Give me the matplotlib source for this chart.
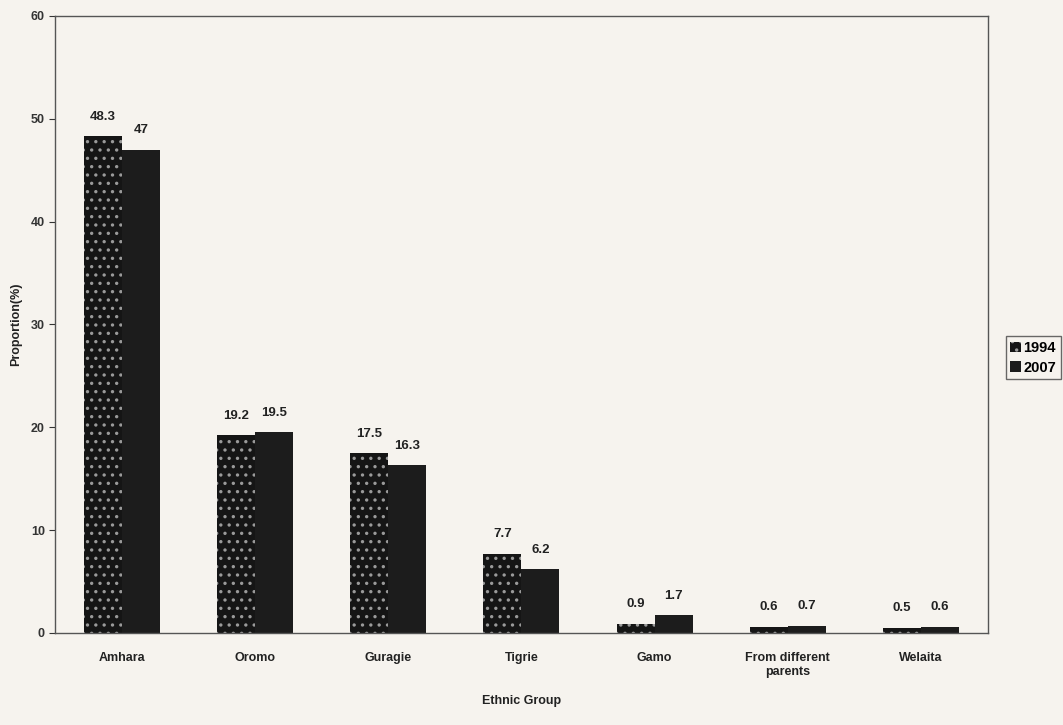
import numpy as np
import matplotlib.pyplot as plt

# Ethnic composition of Addis Ababa, 1994 vs 2007
grupos = ['Amhara', 'Oromo', 'Guragie', 'Tigrie', 'Gamo', 'From different\nparents', 'Welaita']
v1994 = [48.3, 19.2, 17.5, 7.7, 0.9, 0.6, 0.5]
v2007 = [47, 19.5, 16.3, 6.2, 1.7, 0.7, 0.6]
etiq1994 = ['48.3', '19.2', '17.5', '7.7', '0.9', '0.6', '0.5']
etiq2007 = ['47', '19.5', '16.3', '6.2', '1.7', '0.7', '0.6']

plt.rcParams['font.family'] = ['Liberation Sans', 'DejaVu Sans']
plt.rcParams['hatch.linewidth'] = 1.2

fondo = '#f6f3ee'
fig = plt.figure(figsize=(10.63, 7.25), dpi=100, facecolor=fondo)
ax = fig.add_axes([0.052, 0.127, 0.877, 0.851], facecolor=fondo)

x = np.arange(len(grupos))
ancho = 0.285
b1 = ax.bar(x - ancho / 2, v1994, ancho, color='#151515', edgecolor='#9a9a9a',
            hatch='..', linewidth=0, label='1994')
b2 = ax.bar(x + ancho / 2, v2007, ancho, color='#1c1c1c', edgecolor='#1c1c1c',
            linewidth=0, label='2007')

for barra, t in zip(b1, etiq1994):
    ax.text(barra.get_x() + barra.get_width() / 2, barra.get_height() + 1.3, t,
            ha='center', va='bottom', fontsize=9.5, fontweight='bold', color='#222222')
for barra, t in zip(b2, etiq2007):
    ax.text(barra.get_x() + barra.get_width() / 2, barra.get_height() + 1.3, t,
            ha='center', va='bottom', fontsize=9.5, fontweight='bold', color='#222222')

ax.set_xlim(-0.5, len(grupos) - 0.5)
ax.set_ylim(0, 60)
ax.set_yticks(range(0, 61, 10))
ax.set_xticks(x)
ax.set_xticklabels(grupos, fontsize=9, fontweight='bold', color='#222222')
ax.tick_params(axis='x', length=0, pad=14)
ax.tick_params(axis='y', length=4, labelsize=9, colors='#333333')
for lab in ax.get_yticklabels():
    lab.set_fontweight('bold')
for s in ax.spines.values():
    s.set_color('#555555')
    s.set_linewidth(1.0)

ax.set_ylabel('Proportion(%)', fontsize=9, fontweight='bold', color='#222222', labelpad=6)
ax.set_xlabel('Ethnic Group', fontsize=9, fontweight='bold', color='#222222', labelpad=12)

ax.legend(loc='center left', bbox_to_anchor=(1.012, 0.446), frameon=True,
          fancybox=False, edgecolor='#444444', facecolor=fondo, handlelength=0.7,
          handletextpad=0.2, borderpad=0.3, labelspacing=0.4, prop={'weight': 'bold', 'size': 10.5})

plt.savefig('out.png', dpi=100, facecolor=fondo)
